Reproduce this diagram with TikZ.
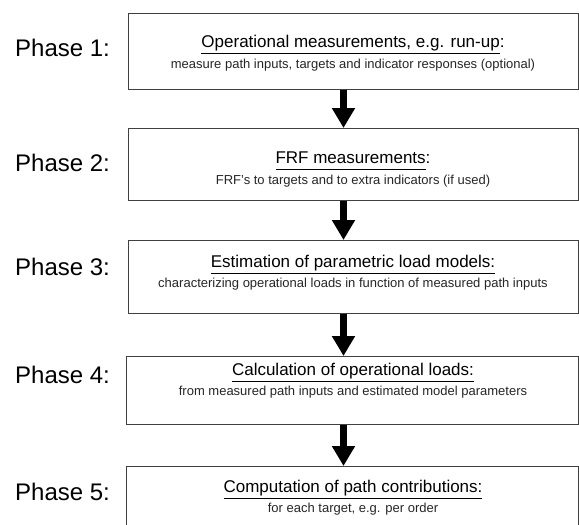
\documentclass[tikz,border=0pt]{standalone}
\usepackage{fontspec}
\setmainfont{Liberation Sans}
\usetikzlibrary{arrows.meta}
\newcommand\ulx[1]{\underline{\smash{#1}\vphantom{g}}}
\begin{document}
\begin{tikzpicture}[x=1pt,y=-1pt,
  box/.style={draw=black!75, line width=1.1pt, inner sep=0pt, anchor=north west},
  phase/.style={font=\fontsize{24}{28}\selectfont, anchor=west, inner sep=0pt},
  ttl/.style={font=\fontsize{17}{20}\selectfont, inner sep=0pt},
  subt/.style={font=\fontsize{13}{15}\selectfont, text=black!85, inner sep=0pt},
  flow/.style={line width=7pt, -{Triangle[width=22pt,length=20pt]}}]
\useasboundingbox (0,0) rectangle (579,525);
\clip (0,0) rectangle (579,525);
\fill[white] (0,0) rectangle (579,525);
% boxes
\node[box, minimum width=450pt, minimum height=76pt] (b1) at (128,13) {};
\node[box, minimum width=450pt, minimum height=72pt] (b2) at (128,128) {};
\node[box, minimum width=450pt, minimum height=73pt] (b3) at (128,240) {};
\node[box, minimum width=452pt, minimum height=68pt] (b4) at (126,356) {};
\node[box, minimum width=452pt, minimum height=80pt] (b5) at (126,466) {};
% phase labels
\node[phase] (p1) at (15,48) {Phase 1:};
\node[phase] (p2) at (15,163) {Phase 2:};
\node[phase] (p3) at (15,267) {Phase 3:};
\node[phase] (p4) at (15,375) {Phase 4:};
\node[phase] (p5) at (15,492) {Phase 5:};
% titles
\node[ttl] (t1) at (353,46) {\ulx{Operational measurements, e.g. run-up}:};
\node[subt] (s1) at (353,65) {measure path inputs, targets and indicator responses (optional)};
\node[ttl] (t2) at (353,162) {\ulx{FRF measurements}:};
\node[subt] (s2) at (353,181) {FRF's to targets and to extra indicators (if used)};
\node[ttl] (t3) at (353,266) {\ulx{Estimation of parametric load models:}};
\node[subt] (s3) at (353,284) {characterizing operational loads in function of measured path inputs};
\node[ttl] (t4) at (353,374) {\ulx{Calculation of operational loads:}};
\node[subt] (s4) at (353,392) {from measured path inputs and estimated model parameters};
\node[ttl] (t5) at (353,491) {\ulx{Computation of path contributions:}};
\node[subt] (s5) at (353,509) {for each target, e.g. per order};
% arrows
\draw[flow] ([xshift=215.5pt]b1.south west) -- ([xshift=215.5pt]b1.south west |- b2.north);
\draw[flow] ([xshift=215.5pt]b2.south west) -- ([xshift=215.5pt]b2.south west |- b3.north);
\draw[flow] ([xshift=215.5pt]b3.south west) -- ([xshift=215.5pt]b3.south west |- b4.north);
\draw[flow] ([xshift=217.5pt]b4.south west) -- ([xshift=217.5pt]b4.south west |- b5.north);
\end{tikzpicture}
\end{document}
